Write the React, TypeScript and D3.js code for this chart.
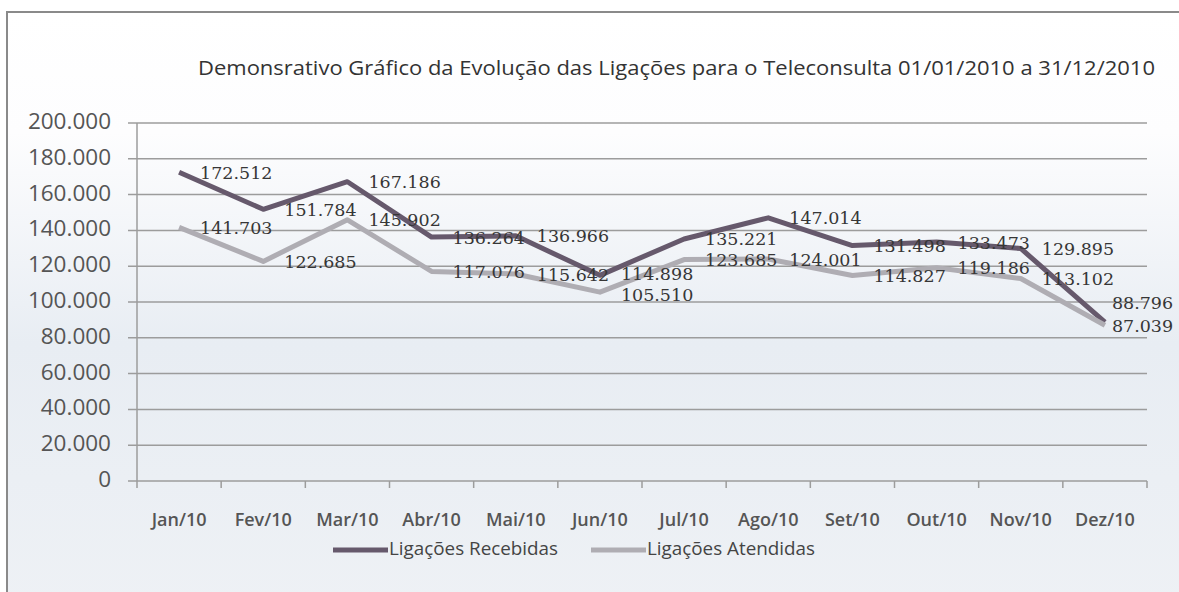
import React from "react";
import * as d3 from "d3";

const months = ["Jan/10", "Fev/10", "Mar/10", "Abr/10", "Mai/10", "Jun/10", "Jul/10", "Ago/10", "Set/10", "Out/10", "Nov/10", "Dez/10"];
const recebidas = [172512, 151784, 167186, 136264, 136966, 114898, 135221, 147014, 131498, 133473, 129895, 88796];
const atendidas = [141703, 122685, 145902, 117076, 115642, 105510, 123685, 124001, 114827, 119186, 113102, 87039];
const yTicks = [0, 20000, 40000, 60000, 80000, 100000, 120000, 140000, 160000, 180000, 200000];
const seriesNames = ["Ligações Recebidas", "Ligações Atendidas"];
const title = "Demonsrativo Gráfico da Evolução das Ligações para o Teleconsulta 01/01/2010 a 31/12/2010";

// label placement tweaks (layout only)
const labelNudge: Record<string, [number, number]> = {
  "0-5": [0, -2],
  "1-5": [0, 2],
  "0-11": [-14, -20],
  "1-11": [-14, 0],
};

const W = 1179;
const H = 592;
const colors = ["#66596c", "#afadb3"];

const loc = d3.formatLocale({ decimal: ",", thousands: ".", grouping: [3], currency: ["", ""] });
const fmt = loc.format(",");

export default function App() {
  const x = d3.scaleBand<string>().domain(months).range([137, 1147]);
  const y = d3.scaleLinear().domain([0, 200000]).range([481, 123]);
  const cx = (m: string) => (x(m) as number) + x.bandwidth() / 2;
  const line = d3
    .line<number>()
    .x((_, i) => cx(months[i]))
    .y((d) => y(d));
  const series = [recebidas, atendidas];
  const boundaries = d3.range(months.length + 1).map((i) => 137 + i * x.bandwidth());

  return (
    <svg width={W} height={H} style={{ position: "absolute", left: 0, top: 0 }}>
      <defs>
        <linearGradient id="bg" x1="0" y1="0" x2="0" y2="1">
          <stop offset="0" stopColor="#ffffff" />
          <stop offset="0.2" stopColor="#fdfdfe" />
          <stop offset="0.55" stopColor="#e8edf3" />
          <stop offset="1" stopColor="#eef1f5" />
        </linearGradient>
      </defs>
      <rect x={0} y={0} width={W} height={H} fill="#ffffff" />
      <rect x={7} y={12} width={W + 10} height={H + 10} fill="url(#bg)" stroke="#8a8a8a" strokeWidth={2} />
      <text
        x={198}
        y={70}
        dominantBaseline="middle"
        fontFamily="'Open Sans', 'Noto Sans', sans-serif"
        fontSize={20.5}
        fill="#333"
        textLength={957}
        lengthAdjust="spacingAndGlyphs"
      >
        {title}
      </text>
      {yTicks.map((t) => (
        <g key={t}>
          <line x1={128} x2={1147} y1={y(t)} y2={y(t)} stroke="#9c9c9c" strokeWidth={1.5} />
          <text
            x={111}
            y={y(t)}
            dominantBaseline="middle"
            textAnchor="end"
            fontFamily="'Open Sans', sans-serif"
            fontSize={22.5}
            fill="#555"
          >
            {fmt(t)}
          </text>
        </g>
      ))}
      <line x1={137} x2={137} y1={y(200000)} y2={y(0)} stroke="#9c9c9c" strokeWidth={1.5} />
      {boundaries.map((b, i) => (
        <line key={i} x1={b} x2={b} y1={y(0)} y2={y(0) + 7} stroke="#9c9c9c" strokeWidth={1.5} />
      ))}
      {months.map((m) => (
        <text
          key={m}
          x={cx(m)}
          y={521}
          dominantBaseline="middle"
          textAnchor="middle"
          fontFamily="'Open Sans', sans-serif"
          fontWeight={600}
          fontSize={18}
          fill="#555"
        >
          {m}
        </text>
      ))}
      {series.map((s, si) => (
        <path key={si} d={line(s) || ""} fill="none" stroke={colors[si]} strokeWidth={5} strokeLinejoin="round" />
      ))}
      {series.map((s, si) =>
        s.map((v, i) => {
          const n = labelNudge[`${si}-${i}`] || [0, 0];
          return (
            <text
              key={`${si}-${i}`}
              x={cx(months[i]) + 21 + n[0]}
              y={y(v) + 2 + n[1]}
              dominantBaseline="middle"
              fontFamily="'DejaVu Serif', serif"
              fontSize={17.5}
              fill="#363636"
            >
              {fmt(v)}
            </text>
          );
        })
      )}
      {seriesNames.map((name, i) => {
        const lx = [333, 591][i];
        return (
          <g key={name}>
            <line x1={lx} x2={lx + 55} y1={550} y2={550} stroke={colors[i]} strokeWidth={5} />
            <text
              x={lx + 56}
              y={550}
              dominantBaseline="middle"
              fontFamily="'Open Sans', sans-serif"
              fontSize={18.5}
              fill="#444"
              textLength={i === 0 ? 169 : 168}
              lengthAdjust="spacingAndGlyphs"
            >
              {name}
            </text>
          </g>
        );
      })}
    </svg>
  );
}
